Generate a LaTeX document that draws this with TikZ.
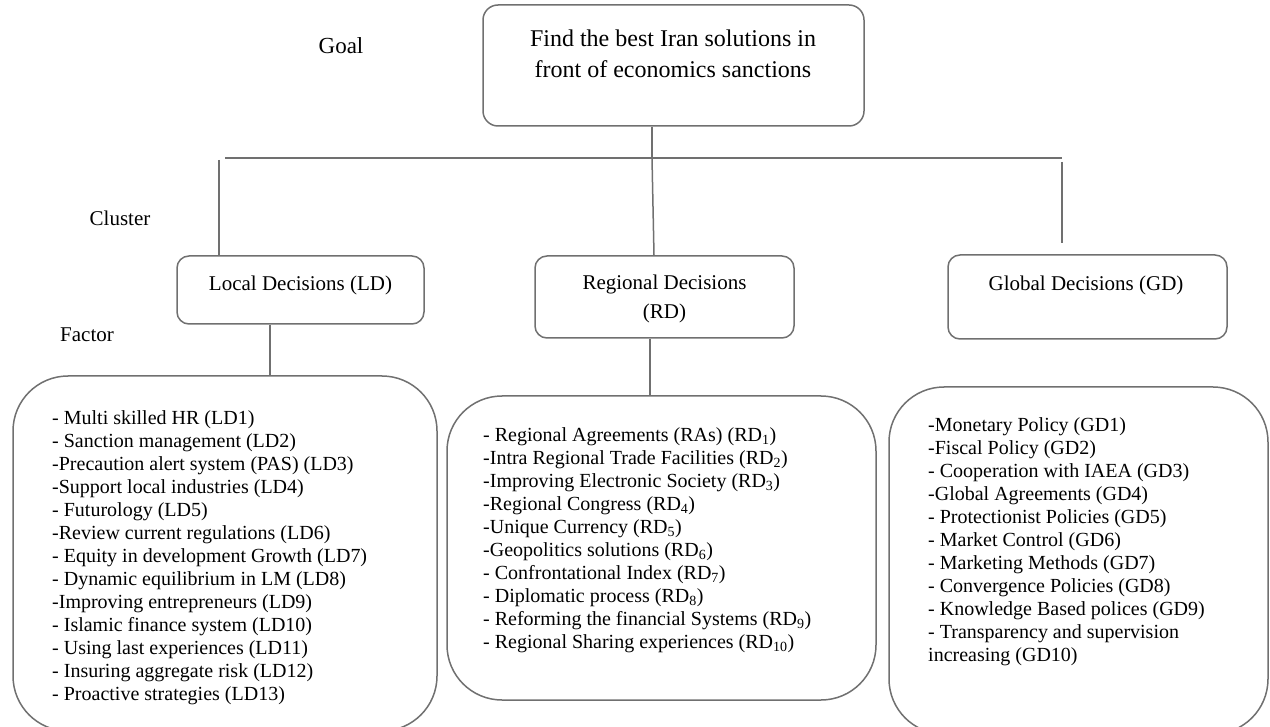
\documentclass[tikz,border=0pt]{standalone}
\usepackage{fontspec}
\setmainfont{Liberation Serif}
\definecolor{edge}{RGB}{112,112,112}
\tikzset{
  box/.style={draw=edge, line width=1.5pt, rounded corners=12pt, inner sep=0pt},
  bigbox/.style={draw=edge, line width=1.5pt, rounded corners=55pt, inner sep=0pt},
  conn/.style={draw=edge, line width=1.5pt},
  lbl/.style={inner sep=0pt, font=\fontsize{21}{25}\selectfont},
  lst/.style={inner sep=0pt, anchor=base west, align=left, font=\fontsize{20}{23}\selectfont},
}
\begin{document}
\begin{tikzpicture}[x=1pt,y=-1pt]
\useasboundingbox (0,0) rectangle (1270,727);
% goal
\node[box, rounded corners=15pt, minimum width=381pt, minimum height=121pt] (goal) at (673.5,65.5) {};
\node[inner sep=0pt, align=center, font=\fontsize{24}{31}\selectfont] (goaltxt) at (673,54) {Find the best Iran solutions in\\front of economics sanctions};
\node[lbl, font=\fontsize{23}{27}\selectfont] (goallbl) at (341,46) {Goal};
\node[lbl] (clusterlbl) at (120,218) {Cluster};
\node[lbl] (factorlbl) at (87,335) {Factor};
% clusters
\node[box, minimum width=247pt, minimum height=68pt] (ld) at (300.5,290) {};
\node[lbl] (ldtxt) at (300.5,285) {Local Decisions (LD)};
\node[box, minimum width=259pt, minimum height=82pt] (rd) at (664.5,297) {};
\node[lbl, align=center, font=\fontsize{21}{29}\selectfont] (rdtxt) at (664.5,299) {Regional Decisions\\(RD)};
\node[box, minimum width=279pt, minimum height=84pt] (gd) at (1087.5,297) {};
\node[lbl] (gdtxt) at (1086,285) {Global Decisions (GD)};
% factor boxes
\node[bigbox, minimum width=424pt, minimum height=355pt] (ldf) at (225,553.5) {};
\node[bigbox, minimum width=429pt, minimum height=304pt] (rdf) at (661.5,548) {};
\node[bigbox, minimum width=379pt, minimum height=347pt] (gdf) at (1078.5,560.5) {};
\node[lst] (ldlist) at (52,700) {- Multi skilled HR (LD1)\\- Sanction management (LD2)\\-Precaution alert system (PAS) (LD3)\\-Support local industries (LD4)\\- Futurology (LD5)\\-Review current regulations (LD6)\\- Equity in development Growth (LD7)\\- Dynamic equilibrium in LM (LD8)\\-Improving entrepreneurs (LD9)\\- Islamic finance system (LD10)\\- Using last experiences (LD11)\\- Insuring aggregate risk (LD12)\\- Proactive strategies (LD13)};
\node[lst] (rdlist) at (483,648) {- Regional Agreements (RAs) (RD\textsubscript{1})\\-Intra Regional Trade Facilities (RD\textsubscript{2})\\-Improving Electronic Society (RD\textsubscript{3})\\-Regional Congress (RD\textsubscript{4})\\-Unique Currency (RD\textsubscript{5})\\-Geopolitics solutions (RD\textsubscript{6})\\- Confrontational Index (RD\textsubscript{7})\\- Diplomatic process (RD\textsubscript{8})\\- Reforming the financial Systems (RD\textsubscript{9})\\- Regional Sharing experiences (RD\textsubscript{10})};
\node[lst] (gdlist) at (928,661) {-Monetary Policy (GD1)\\-Fiscal Policy (GD2)\\- Cooperation with IAEA (GD3)\\-Global Agreements (GD4)\\- Protectionist Policies (GD5)\\- Market Control (GD6)\\- Marketing Methods (GD7)\\- Convergence Policies (GD8)\\- Knowledge Based polices (GD9)\\- Transparency and supervision\\increasing (GD10)};
% connectors
\coordinate (j) at (652,158);
\coordinate (hl) at (225,158);
\coordinate (hr) at (1062,158);
\coordinate (lv) at (219,160);
\coordinate (gv) at (1062,162);
\coordinate (gvend) at (1062,243);
\coordinate (rdx) at (654,0);
\coordinate (ldx) at (270,0);
\coordinate (rdfx) at (650,0);
\draw[conn] (goal.south -| j) -- (j);
\draw[conn] (hl) -- (hr);
\draw[conn] (lv) -- (ld.north -| lv);
\draw[conn] (j) -- (rd.north -| rdx);
\draw[conn] (gv) -- (gvend);
\draw[conn] (ld.south -| ldx) -- (ldf.north -| ldx);
\draw[conn] (rd.south -| rdfx) -- (rdf.north -| rdfx);
\end{tikzpicture}
\end{document}
